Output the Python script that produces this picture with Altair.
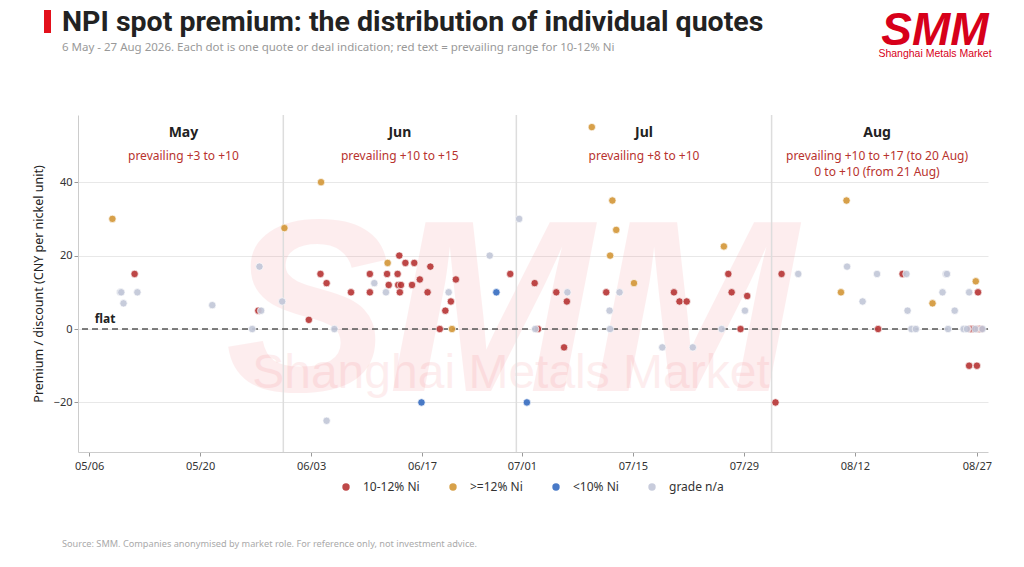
import altair as alt
import pandas as pd

# x positions are trading-day positions (0 = 6 May, Dragon Boat holiday 19 Jun skipped),
# read off the picture including the small horizontal spread of the dots
red_td = [4.1, 15.25, 19.8, 20.85, 21.4, 23.6, 25.3, 25.3, 26.85, 27.0, 27.95, 27.8, 27.85, 28.1,
          28.0, 28.5, 29.3, 29.1, 29.8, 30.75, 30.5, 31.6, 32.1, 32.6, 33.05, 37.95, 40.15, 40.45,
          42.1, 43.05, 42.8, 46.6, 52.7, 53.2, 53.85, 57.6, 57.9, 58.7, 59.3, 61.85, 62.4, 71.1,
          73.3, 79.3, 80.0, 80.1, 79.4, 79.7, 80.1, 80.4]
red_val = [15, 5, 2.5, 15, 12.5, 10, 15, 10, 15, 12, 20, 15, 12, 12,
           10, 18, 18, 12, 13.5, 17, 10, 0, 5, 7.5, 13.5, 15, 12.5, 0,
           10, 7.5, -5, 10, 10, 7.5, 7.5, 15, 10, 0, 9, -20, 15, 0,
           15, -10, -10, 10, 0, 0, 0, 0]

orange_td = [2.1, 17.6, 20.9, 26.9, 32.7, 45.3, 47.15, 47.5, 46.95, 49.1, 57.2, 68.25, 67.75, 76.0, 79.9]
orange_val = [30, 27.5, 40, 18, 0, 55, 35, 27, 20, 12.5, 22.5, 35, 10, 7, 13]

blue_td = [29.95, 36.7, 39.45]
blue_val = [-20, 10, -20]

grey_td = [2.8, 2.9, 3.1, 4.35, 11.1, 14.7, 15.5, 15.35, 17.4, 22.1, 21.4, 25.7, 26.75, 32.4, 36.1,
           38.75, 40.2, 43.1, 46.9, 46.95, 47.8, 51.65, 54.4, 57.0, 59.1, 63.9, 68.3, 69.7, 71.0,
           73.65, 73.75, 74.1, 74.5, 76.9, 77.2, 77.3, 77.4, 78.0, 78.8, 79.3, 79.1, 79.85, 80.5]
grey_val = [10, 10, 7, 10, 6.5, 0, 5, 17, 7.5, 0, -25, 12.5, 10, 10, 20,
            30, 0, 10, 5, 0, 10, -5, -5, 0, 5, 15, 17, 7.5, 15,
            15, 5, 0, 0, 10, 15, 15, 0, 5, 0, 10, 0, 0, 0]

grades = ["10-12% Ni", ">=12% Ni", "<10% Ni", "grade n/a"]
grade_colors = ["#b83838", "#d4993b", "#3a6fc2", "#c3c8d9"]

tick_td = [0, 10, 20, 30, 39, 49, 59, 69, 80]
tick_labels = ["05/06", "05/20", "06/03", "06/17", "07/01", "07/15", "07/29", "08/12", "08/27"]

divider_td = [17.5, 38.5, 61.5]
months = ["May", "Jun", "Jul", "Aug"]
month_td = [8.5, 28, 50, 71]
prevailing = ["prevailing +3 to +10", "prevailing +10 to +15", "prevailing +8 to +10",
              "prevailing +10 to +17 (to 20 Aug)"]
prevailing_2 = ["", "", "", "0 to +10 (from 21 Aug)"]

points = pd.concat([
    pd.DataFrame({"td": red_td, "value": red_val, "grade": grades[0]}),
    pd.DataFrame({"td": orange_td, "value": orange_val, "grade": grades[1]}),
    pd.DataFrame({"td": blue_td, "value": blue_val, "grade": grades[2]}),
    pd.DataFrame({"td": grey_td, "value": grey_val, "grade": grades[3]}),
])
months_df = pd.DataFrame({"td": month_td, "month": months, "prev": prevailing, "prev2": prevailing_2})

FONT = "Noto Sans"
x_scale = alt.Scale(domain=[-1, 81], nice=False, zero=False)
y_scale = alt.Scale(domain=[-33.5, 58.3], nice=False, zero=False)

label_expr = " : ".join(f"datum.value == {t} ? '{l}'" for t, l in zip(tick_td, tick_labels)) + " : ''"

# watermark
wm = alt.Chart(pd.DataFrame({"t": ["SMM"]})).mark_text(
    font="Liberation Sans", fontWeight="bold", fontStyle="italic", fontSize=245,
    color="#e8202a", opacity=0.075, baseline="alphabetic"
).encode(x=alt.value(433), y=alt.value(276), text="t:N")
wm2 = alt.Chart(pd.DataFrame({"t": ["Shanghai Metals Market"]})).mark_text(
    font="Liberation Sans", fontSize=48, color="#e8202a", opacity=0.075, baseline="alphabetic"
).encode(x=alt.value(433), y=alt.value(273), text="t:N")

dividers = alt.Chart(pd.DataFrame({"td": divider_td})).mark_rule(
    color="#dddddd", strokeWidth=1.5
).encode(x=alt.X("td:Q", scale=x_scale))

zero = alt.Chart(pd.DataFrame({"y": [0]})).mark_rule(
    color="#555555", strokeDash=[6, 4], strokeWidth=1.3
).encode(y=alt.Y("y:Q", scale=y_scale))

flat = alt.Chart(pd.DataFrame({"td": [0.5], "y": [0], "t": ["flat"]})).mark_text(
    font=FONT, fontWeight="bold", fontSize=12, color="#222222", align="left", baseline="bottom", dy=-3
).encode(x=alt.X("td:Q", scale=x_scale), y=alt.Y("y:Q", scale=y_scale), text="t:N")

dots = alt.Chart(points).mark_circle(opacity=0.92, stroke="white", strokeWidth=0.7).encode(
    x=alt.X("td:Q", scale=x_scale, title=None,
            axis=alt.Axis(values=tick_td, labelExpr=label_expr, grid=False, domainColor="#cccccc",
                          tickColor="#999999", tickSize=4, labelColor="#333333", labelFontSize=11,
                          labelFont=FONT, labelPadding=4)),
    y=alt.Y("value:Q", scale=y_scale, title="Premium / discount (CNY per nickel unit)",
            axis=alt.Axis(values=[-20, 0, 20, 40], grid=True, gridColor="#e8e8e8", domainColor="#cccccc",
                          tickColor="#999999", tickSize=4, labelColor="#333333", labelFontSize=11,
                          labelFont=FONT, titleFont=FONT, titleFontSize=12.5, titleFontWeight="normal",
                          titleColor="#222222", titlePadding=8)),
    color=alt.Color("grade:N", scale=alt.Scale(domain=grades, range=grade_colors), title=None,
                    legend=alt.Legend(orient="none", direction="horizontal", legendX=262, legendY=366,
                                      symbolType="circle", symbolSize=45, symbolStrokeWidth=0,
                                      labelFont=FONT, labelFontSize=12, labelColor="#333333",
                                      columnPadding=27, labelOffset=11)),
    size=alt.Size("grade:N", scale=alt.Scale(domain=grades, range=[55, 55, 55, 30]), legend=None),
    order=alt.Order("ord:Q"),
).transform_calculate(ord="datum.grade == 'grade n/a' ? 1 : 0")

month_lbl = alt.Chart(months_df).mark_text(
    font=FONT, fontWeight="bold", fontSize=14, color="#222222"
).encode(x=alt.X("td:Q", scale=x_scale), y=alt.value(18), text="month:N")
prev_lbl = alt.Chart(months_df).mark_text(
    font=FONT, fontSize=12, color="#b8332e"
).encode(x=alt.X("td:Q", scale=x_scale), y=alt.value(41), text="prev:N")
prev_lbl2 = alt.Chart(months_df).mark_text(
    font=FONT, fontSize=12, color="#b8332e"
).encode(x=alt.X("td:Q", scale=x_scale), y=alt.value(57), text="prev2:N")

# header, logo and footer
bar = alt.Chart(pd.DataFrame({"a": [0]})).mark_rect(color="#e3101b").encode(
    x=alt.value(-34), x2=alt.value(-27), y=alt.value(-105), y2=alt.value(-82))
title = alt.Chart(pd.DataFrame({"t": ["NPI spot premium: the distribution of individual quotes"]})).mark_text(
    font="Roboto", fontWeight="bold", fontSize=28.5, color="#222222", align="left", baseline="alphabetic"
).encode(x=alt.value(-16), y=alt.value(-84), text="t:N")
subtitle = alt.Chart(pd.DataFrame({"t": [
    "6 May - 27 Aug 2026. Each dot is one quote or deal indication; red text = prevailing range for 10-12% Ni"]})
).mark_text(font=FONT, fontSize=11.5, color="#999999", align="left", baseline="middle").encode(
    x=alt.value(-16), y=alt.value(-67), text="t:N")
logo = alt.Chart(pd.DataFrame({"t": ["SMM"]})).mark_text(
    font="Liberation Sans", fontWeight="bold", fontStyle="italic", fontSize=46, color="#d7001a",
    baseline="alphabetic"
).encode(x=alt.value(857), y=alt.value(-70), text="t:N")
logo2 = alt.Chart(pd.DataFrame({"t": ["Shanghai Metals Market"]})).mark_text(
    font="Liberation Sans", fontSize=10.5, color="#d7001a", baseline="middle"
).encode(x=alt.value(857), y=alt.value(-61), text="t:N")
footer = alt.Chart(pd.DataFrame({"t": [
    "Source: SMM. Companies anonymised by market role. For reference only, not investment advice."]})
).mark_text(font=FONT, fontSize=9.2, color="#aaaaaa", align="left", baseline="middle").encode(
    x=alt.value(-16), y=alt.value(429), text="t:N")

chart = alt.layer(
    wm, wm2, dividers, zero, dots, flat, month_lbl, prev_lbl, prev_lbl2,
    bar, title, subtitle, logo, logo2, footer
).properties(
    width=910, height=337,
    autosize=alt.AutoSizeParams(type="none"),
    padding={"left": 70, "top": 107, "right": 28, "bottom": 115},
).configure_view(stroke=None)

chart.save("out.html", embed_options={"renderer": "svg", "actions": False})
